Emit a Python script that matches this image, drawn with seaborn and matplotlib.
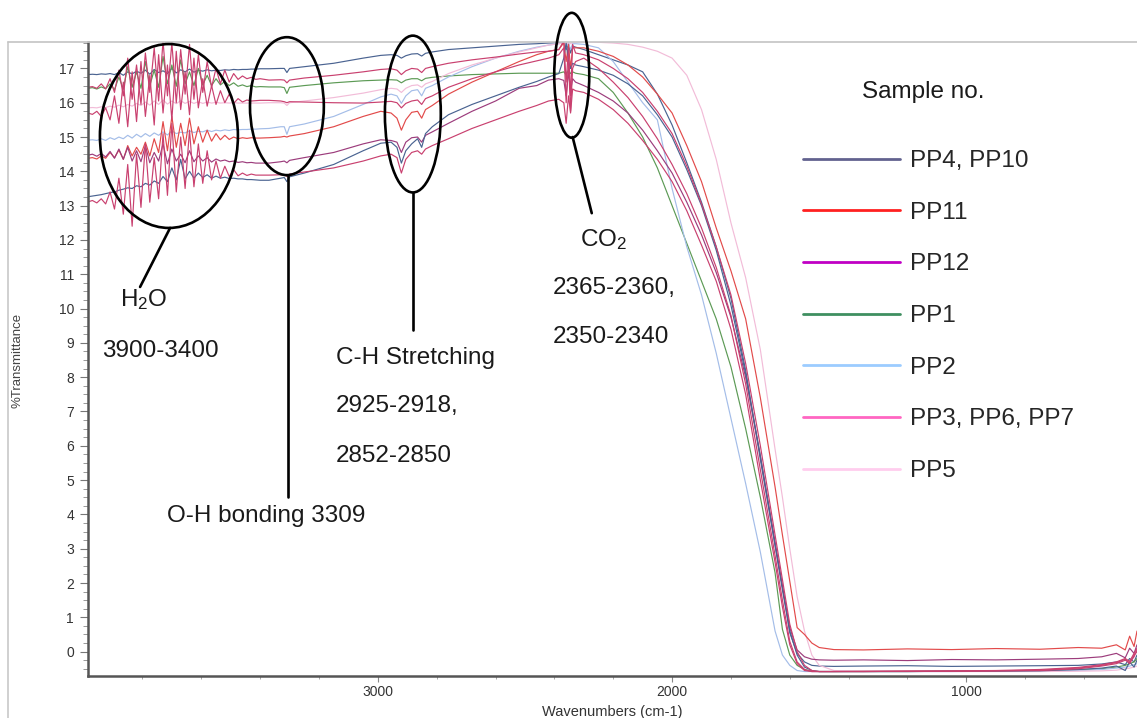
import matplotlib
matplotlib.use("Agg")
import matplotlib.pyplot as plt
from matplotlib.lines import Line2D
from matplotlib.patches import Ellipse
from matplotlib.ticker import MultipleLocator, FixedLocator
import pandas as pd
import seaborn as sns

# ---------------------------------------------------------------- data
# wavenumber grid (cm-1): water-vapour band, then the rest of the scan
wavenumber_h2o = [3985, 3970, 3955, 3940, 3925, 3910, 3895, 3880, 3865, 3850,
                  3835, 3820, 3805, 3790, 3775, 3760, 3745, 3730, 3715, 3700,
                  3685, 3670, 3655, 3640, 3625, 3610, 3595, 3580, 3565, 3550,
                  3535, 3520, 3505, 3490, 3475, 3460, 3445, 3430, 3415, 3400]
wavenumber_main = [3370, 3330, 3318, 3309, 3300, 3250, 3150, 3050, 2990, 2955,
                   2935, 2920, 2905, 2885, 2865, 2851, 2838, 2815, 2760, 2680,
                   2600, 2520, 2460, 2420, 2385, 2368, 2360, 2352, 2345, 2338,
                   2328, 2300, 2250, 2200, 2150, 2100, 2050, 2000, 1950, 1900,
                   1850, 1800, 1750, 1700, 1650, 1625, 1600, 1575, 1550, 1525,
                   1500, 1450, 1350, 1200, 1050, 900, 750, 620, 540, 490,
                   460, 445, 430, 420]

# %Transmittance, 3985-3400 cm-1
pp4_h2o = [16.82, 16.83, 16.82, 16.84, 16.83, 16.85, 16.82, 16.88, 16.80, 16.90,
           16.84, 16.92, 16.86, 16.95, 16.83, 16.97, 16.88, 16.93, 16.85, 17.00,
           16.87, 16.96, 16.90, 16.98, 16.89, 16.95, 16.92, 16.96, 16.93, 16.95,
           16.94, 16.96, 16.95, 16.97, 16.96, 16.97, 16.97, 16.98, 16.98, 16.99]
pp10_h2o = [13.26, 13.28, 13.30, 13.32, 13.35, 13.38, 13.40, 13.45, 13.48, 13.52,
            13.50, 13.58, 13.55, 13.65, 13.60, 13.72, 13.65, 13.85, 13.70, 14.10,
            13.75, 14.35, 13.78, 14.00, 13.80, 13.95, 13.82, 13.90, 13.80, 13.86,
            13.80, 13.83, 13.79, 13.80, 13.78, 13.78, 13.76, 13.76, 13.75, 13.74]
pp11_h2o = [14.38, 14.40, 14.36, 14.45, 14.38, 14.55, 14.40, 14.62, 14.35, 14.75,
            14.45, 14.70, 14.50, 14.85, 14.45, 14.95, 14.55, 15.45, 14.60, 15.60,
            14.70, 15.40, 14.75, 15.55, 14.80, 15.30, 14.85, 15.20, 14.88, 15.10,
            14.92, 15.05, 14.93, 15.00, 14.95, 14.98, 14.96, 14.98, 14.97, 14.97]
pp12_h2o = [14.47, 14.50, 14.44, 14.52, 14.42, 14.58, 14.38, 14.65, 14.35, 14.70,
            14.30, 14.60, 14.28, 14.75, 14.25, 14.55, 14.30, 14.80, 14.22, 14.65,
            14.30, 14.50, 14.25, 14.60, 14.28, 14.45, 14.30, 14.40, 14.27, 14.36,
            14.30, 14.33, 14.28, 14.30, 14.26, 14.28, 14.25, 14.26, 14.24, 14.24]
pp1_h2o = [16.42, 16.44, 16.40, 16.46, 16.41, 16.55, 16.38, 16.75, 16.40, 17.05,
           16.45, 16.90, 16.42, 17.20, 16.50, 16.95, 16.45, 17.35, 16.55, 17.10,
           16.48, 17.25, 16.55, 16.90, 16.50, 17.00, 16.52, 16.80, 16.50, 16.70,
           16.52, 16.62, 16.50, 16.58, 16.48, 16.52, 16.47, 16.50, 16.46, 16.47]
pp2_h2o = [14.91, 14.92, 14.90, 14.95, 14.90, 14.98, 14.93, 15.00, 14.95, 15.05,
           14.97, 15.08, 15.00, 15.10, 15.02, 15.12, 15.05, 15.15, 15.06, 15.18,
           15.10, 15.14, 15.12, 15.18, 15.13, 15.17, 15.15, 15.20, 15.16, 15.20,
           15.18, 15.21, 15.19, 15.22, 15.21, 15.22, 15.22, 15.23, 15.23, 15.24]
pp3_h2o = [16.45, 16.47, 16.42, 16.55, 16.40, 16.70, 16.30, 16.95, 16.20, 17.30,
           16.10, 17.10, 15.95, 17.45, 16.30, 17.60, 16.05, 17.80, 16.20, 17.75,
           16.00, 17.55, 16.25, 17.70, 16.10, 17.40, 16.30, 17.20, 16.45, 17.00,
           16.55, 16.95, 16.60, 16.85, 16.68, 16.78, 16.70, 16.74, 16.68, 16.70]
pp6_h2o = [15.70, 15.66, 15.75, 15.60, 15.85, 15.50, 16.20, 15.40, 16.60, 15.30,
           16.90, 15.45, 17.20, 15.60, 16.80, 15.35, 17.40, 15.70, 17.10, 15.50,
           17.50, 15.80, 16.90, 15.65, 17.30, 15.85, 16.70, 15.90, 16.50, 15.95,
           16.35, 16.00, 16.25, 15.98, 16.12, 16.02, 16.08, 16.05, 16.06, 16.07]
pp7_h2o = [13.11, 13.15, 13.08, 13.20, 13.05, 13.40, 12.90, 13.80, 12.75, 14.20,
           12.40, 14.50, 12.95, 14.80, 13.10, 14.40, 13.20, 15.10, 13.30, 15.40,
           13.40, 15.00, 13.50, 15.20, 13.55, 14.80, 13.65, 14.60, 13.75, 14.30,
           13.80, 14.15, 13.85, 14.05, 13.87, 13.95, 13.88, 13.92, 13.89, 13.89]
pp5_h2o = [15.85, 15.86, 15.85, 15.88, 15.86, 15.90, 15.87, 15.93, 15.88, 15.95,
           15.90, 15.98, 15.92, 16.02, 15.93, 16.05, 15.95, 16.08, 15.96, 16.05,
           15.97, 16.06, 15.98, 16.04, 15.98, 16.03, 15.98, 16.02, 15.99, 16.01,
           15.99, 16.00, 15.99, 16.00, 15.99, 15.99, 15.99, 15.99, 15.99, 15.99]

# %Transmittance, 3370-420 cm-1
pp4_main = [16.99, 17.00, 17.00, 16.88, 17.00, 17.05, 17.15, 17.30, 17.38, 17.40,
            17.38, 17.30, 17.37, 17.42, 17.43, 17.36, 17.44, 17.48, 17.55, 17.60,
            17.65, 17.70, 17.72, 17.74, 17.75, 17.75, 17.55, 17.70, 17.45, 17.65,
            17.62, 17.55, 17.40, 17.25, 17.10, 16.90, 16.25, 15.35, 14.25, 13.10,
            11.80, 10.30, 8.20, 5.60, 3.10, 1.90, 0.55, -0.05, -0.30, -0.40,
            -0.42, -0.43, -0.42, -0.41, -0.43, -0.42, -0.41, -0.40, -0.36, -0.30,
            -0.38, -0.20, -0.30, -0.10]
pp10_main = [13.74, 13.80, 13.82, 13.70, 13.84, 13.95, 14.20, 14.60, 14.82, 14.85,
             14.70, 14.24, 14.60, 14.80, 14.95, 14.70, 15.10, 15.30, 15.65, 15.95,
             16.20, 16.45, 16.62, 16.75, 16.85, 17.30, 17.75, 17.20, 17.00, 17.15,
             17.10, 17.05, 16.95, 16.80, 16.55, 16.20, 15.65, 15.00, 14.05, 13.00,
             11.70, 10.10, 8.10, 5.70, 3.10, 1.80, 0.60, -0.10, -0.45, -0.55,
             -0.58, -0.58, -0.58, -0.58, -0.57, -0.57, -0.56, -0.52, -0.48, -0.42,
             -0.55, -0.30, -0.45, -0.25]
pp11_main = [14.98, 15.00, 15.02, 15.00, 15.03, 15.10, 15.30, 15.60, 15.75, 15.70,
             15.55, 15.20, 15.50, 15.72, 15.75, 15.55, 15.80, 15.92, 16.25, 16.60,
             16.90, 17.20, 17.40, 17.50, 17.55, 17.75, 17.20, 17.70, 17.00, 17.60,
             17.60, 17.60, 17.50, 17.35, 17.10, 16.75, 16.25, 15.70, 14.75, 13.70,
             12.35, 11.10, 9.70, 7.40, 4.80, 3.40, 2.05, 0.70, 0.50, 0.25,
             0.12, 0.06, 0.05, 0.08, 0.06, 0.09, 0.07, 0.12, 0.10, 0.20,
             0.05, 0.45, 0.15, 0.60]
pp12_main = [14.24, 14.28, 14.30, 14.25, 14.32, 14.40, 14.55, 14.80, 14.92, 14.90,
             14.85, 14.55, 14.85, 14.98, 15.00, 14.85, 15.05, 15.15, 15.40, 15.75,
             16.05, 16.42, 16.50, 16.66, 16.70, 16.65, 16.20, 16.90, 16.35, 16.70,
             16.60, 16.50, 16.30, 16.05, 15.70, 15.20, 14.60, 13.95, 13.10, 12.15,
             11.05, 9.75, 8.00, 5.70, 3.20, 1.90, 0.70, 0.05, -0.15, -0.22,
             -0.24, -0.25, -0.24, -0.26, -0.23, -0.24, -0.22, -0.20, -0.15, -0.05,
             -0.18, 0.10, -0.05, 0.20]
pp1_main = [16.46, 16.46, 16.44, 16.27, 16.45, 16.50, 16.58, 16.64, 16.66, 16.67,
            16.66, 16.58, 16.66, 16.70, 16.70, 16.64, 16.71, 16.74, 16.78, 16.82,
            16.84, 16.86, 16.86, 16.86, 16.86, 16.90, 16.82, 16.95, 16.85, 16.90,
            16.86, 16.82, 16.70, 16.30, 15.70, 15.00, 14.10, 13.00, 11.90, 10.80,
            9.70, 8.30, 6.50, 4.50, 2.30, 0.65, -0.10, -0.40, -0.52, -0.57,
            -0.58, -0.58, -0.58, -0.58, -0.57, -0.57, -0.56, -0.53, -0.50, -0.45,
            -0.40, -0.35, -0.30, -0.20]
pp2_main = [15.25, 15.30, 15.30, 15.08, 15.30, 15.38, 15.60, 15.95, 16.17, 16.25,
            16.20, 15.98, 16.20, 16.35, 16.38, 16.20, 16.42, 16.50, 16.75, 17.05,
            17.30, 17.50, 17.62, 17.68, 17.72, 17.75, 17.60, 17.75, 17.55, 17.72,
            17.72, 17.70, 17.60, 17.20, 16.60, 16.00, 15.50, 13.50, 11.80, 10.40,
            8.70, 6.80, 4.90, 2.90, 0.60, -0.10, -0.40, -0.55, -0.58, -0.58,
            -0.58, -0.58, -0.58, -0.58, -0.58, -0.57, -0.57, -0.55, -0.52, -0.48,
            -0.45, -0.42, -0.38, -0.35]
pp3_main = [16.66, 16.67, 16.66, 16.58, 16.66, 16.72, 16.80, 16.90, 16.97, 16.99,
            16.95, 16.82, 16.93, 17.00, 16.98, 16.88, 17.00, 17.05, 17.15, 17.25,
            17.33, 17.42, 17.48, 17.50, 17.55, 17.80, 16.60, 17.60, 16.20, 17.70,
            17.45, 17.40, 17.25, 17.00, 16.70, 16.30, 15.75, 15.10, 14.15, 13.05,
            11.80, 10.40, 8.40, 6.00, 3.40, 2.10, 0.80, 0.00, -0.40, -0.55,
            -0.58, -0.58, -0.58, -0.57, -0.57, -0.56, -0.55, -0.50, -0.42, -0.35,
            -0.25, -0.32, -0.15, 0.05]
pp6_main = [16.07, 16.05, 16.03, 16.00, 16.03, 16.02, 16.00, 15.99, 16.02, 16.04,
            16.00, 15.85, 15.98, 16.05, 16.08, 15.95, 16.12, 16.20, 16.45, 16.70,
            16.90, 17.10, 17.22, 17.30, 17.40, 17.60, 16.00, 17.20, 15.75, 17.00,
            17.20, 17.30, 17.00, 16.60, 16.15, 15.60, 14.95, 14.20, 13.35, 12.35,
            11.20, 9.80, 7.80, 5.30, 2.80, 1.50, 0.30, -0.30, -0.52, -0.58,
            -0.58, -0.58, -0.57, -0.57, -0.56, -0.55, -0.52, -0.46, -0.38, -0.30,
            -0.20, -0.28, -0.05, 0.10]
pp7_main = [13.89, 13.90, 13.90, 13.85, 13.92, 13.98, 14.10, 14.30, 14.45, 14.50,
            14.40, 13.95, 14.35, 14.55, 14.60, 14.50, 14.65, 14.75, 14.95, 15.25,
            15.50, 15.75, 15.92, 16.05, 16.10, 16.00, 15.40, 16.20, 15.70, 16.40,
            16.35, 16.30, 16.10, 15.80, 15.40, 14.90, 14.35, 13.70, 12.85, 11.85,
            10.80, 9.40, 7.50, 5.00, 2.60, 1.30, 0.20, -0.35, -0.55, -0.58,
            -0.58, -0.58, -0.58, -0.57, -0.57, -0.56, -0.54, -0.48, -0.40, -0.32,
            -0.22, -0.35, -0.10, 0.00]
pp5_main = [16.00, 16.00, 15.99, 15.92, 16.00, 16.05, 16.15, 16.28, 16.38, 16.42,
            16.40, 16.30, 16.42, 16.50, 16.52, 16.45, 16.55, 16.62, 16.85, 17.10,
            17.30, 17.48, 17.60, 17.68, 17.72, 17.75, 17.70, 17.76, 17.72, 17.76,
            17.77, 17.78, 17.76, 17.74, 17.70, 17.62, 17.50, 17.30, 16.80, 15.80,
            14.35, 12.50, 10.90, 8.80, 5.90, 4.50, 3.00, 1.60, 0.60, -0.10,
            -0.40, -0.55, -0.58, -0.58, -0.58, -0.58, -0.58, -0.57, -0.56, -0.54,
            -0.50, -0.48, -0.45, -0.42]

samples = ["PP4", "PP1", "PP2", "PP5", "PP11", "PP12", "PP10", "PP3", "PP6", "PP7"]
spectra = {
    "PP4": (pp4_h2o, pp4_main), "PP10": (pp10_h2o, pp10_main),
    "PP11": (pp11_h2o, pp11_main), "PP12": (pp12_h2o, pp12_main),
    "PP1": (pp1_h2o, pp1_main), "PP2": (pp2_h2o, pp2_main),
    "PP3": (pp3_h2o, pp3_main), "PP6": (pp6_h2o, pp6_main),
    "PP7": (pp7_h2o, pp7_main), "PP5": (pp5_h2o, pp5_main),
}
trace_colors = {
    "PP4": "#4a6391", "PP10": "#4a6391", "PP11": "#e24a4a", "PP12": "#9c3c7c",
    "PP1": "#5c9a55", "PP2": "#a4bde8", "PP3": "#c9406f", "PP6": "#c9406f",
    "PP7": "#c9406f", "PP5": "#f2bcd8",
}

key_labels = ["PP4, PP10", "PP11", "PP12", "PP1", "PP2", "PP3, PP6, PP7", "PP5"]
key_colors = ["#62628f", "#ff2020", "#c000c4", "#3f8f60", "#9cccff", "#ff66c2", "#ffcdee"]

# ---------------------------------------------------------------- frame
sns.set_theme(style="white")
plt.rcParams["font.family"] = ["Liberation Sans", "DejaVu Sans"]
plt.rcParams["mathtext.default"] = "regular"

W, H = 1137, 718
fig = plt.figure(figsize=(W / 100, H / 100), dpi=100)
ax = fig.add_axes([88 / W, 42 / H, (W - 88) / W, (676 - 42) / H])

rows = []
for name in samples:
    h2o, main = spectra[name]
    rows.append(pd.DataFrame({
        "wavenumber": wavenumber_h2o + wavenumber_main,
        "transmittance": h2o + main,
        "sample": name,
    }))
df = pd.concat(rows, ignore_index=True)

sns.lineplot(data=df, x="wavenumber", y="transmittance", hue="sample",
             hue_order=samples, palette=trace_colors, estimator=None,
             sort=False, legend=False, linewidth=0.85, ax=ax)

ax.set_xlim(3985, 420)
ax.set_ylim(-0.71, 17.77)

ax.yaxis.set_major_locator(FixedLocator(range(0, 18)))
ax.yaxis.set_minor_locator(MultipleLocator(0.25))
ax.xaxis.set_major_locator(FixedLocator([3000, 2000, 1000]))
ax.xaxis.set_minor_locator(MultipleLocator(200))
ax.tick_params(axis="y", which="major", length=6, width=0.8, color="#777777",
               labelsize=10, labelcolor="#333333", pad=4, left=True)
ax.tick_params(axis="y", which="minor", length=3.5, width=0.6, color="#888888", left=True)
ax.tick_params(axis="x", which="major", length=4, width=0.8, color="#888888",
               labelsize=10, labelcolor="#333333", pad=2.5, bottom=True)
ax.tick_params(axis="x", which="minor", length=2.5, width=0.6, color="#999999", bottom=True)

for side in ("left", "bottom"):
    ax.spines[side].set_color("#555555")
    ax.spines[side].set_linewidth(1.8)
ax.spines["top"].set_color("#c4c4c4")
ax.spines["top"].set_linewidth(1.2)
ax.spines["right"].set_visible(False)

ax.set_xlabel("Wavenumbers (cm-1)", fontsize=10.5, color="#333333", labelpad=4)
ax.set_ylabel("")
fig.text(18 / W, 1 - 360 / H, "%Transmittance", rotation=90, ha="center",
         va="center", fontsize=9.5, color="#444444")

# outer page frame
fig.add_artist(Line2D([8 / W, 8 / W], [0, 1 - 42 / H], transform=fig.transFigure,
                      color="#c8c8c8", lw=1.2))
fig.add_artist(Line2D([8 / W, 88 / W], [1 - 42 / H, 1 - 42 / H], transform=fig.transFigure,
                      color="#c4c4c4", lw=1.2))

# ---------------------------------------------------------------- band call-outs
ring = dict(fill=False, edgecolor="black", linewidth=1.9, clip_on=False, zorder=5)
ax.add_patch(Ellipse((3710, 15.03), 469, 5.36, **ring))   # H2O
ax.add_patch(Ellipse((3309, 15.90), 251, 4.02, **ring))   # O-H
ax.add_patch(Ellipse((2881, 15.67), 190, 4.57, **ring))   # C-H
ax.add_patch(Ellipse((2341, 16.80), 119, 3.64, **ring))   # CO2

lead = dict(color="black", linewidth=1.9, clip_on=False, zorder=5)
ax.add_line(Line2D([3706, 3808], [12.35, 10.63], **lead))
ax.add_line(Line2D([3306, 3306], [13.89, 4.51], **lead))
ax.add_line(Line2D([2881, 2881], [13.36, 9.37], **lead))
ax.add_line(Line2D([2338, 2273], [15.00, 12.78], **lead))

note = dict(fontsize=17.5, color="#1a1a1a", ha="left", va="center")
ax.text(3876, 10.25, r"H$_2$O", **note)
ax.text(3937, 8.76, "3900-3400", **note)
ax.text(3716, 3.95, "O-H bonding 3309", **note)
ax.text(3143, 8.55, "C-H Stretching", **note)
ax.text(3143, 7.15, "2925-2918,", **note)
ax.text(3143, 5.70, "2852-2850", **note)
ax.text(2314, 12.00, r"CO$_2$", **note)
ax.text(2406, 10.60, "2365-2360,", **note)
ax.text(2406, 9.17, "2350-2340", **note)

# ---------------------------------------------------------------- key
fig.text(923 / W, 1 - 92 / H, "Sample no.", fontsize=17.5, color="#1a1a1a",
         ha="center", va="center")
handles = [Line2D([], [], color=c, linewidth=2) for c in key_colors]
fig.legend(handles, key_labels, loc="upper left",
           bbox_to_anchor=(803 / W, 1 - 150 / H), bbox_transform=fig.transFigure,
           frameon=False, fontsize=17.5, handlelength=4.0, handletextpad=0.42,
           labelspacing=1.22, borderpad=0, borderaxespad=0)

fig.savefig("out.png", dpi=100)
